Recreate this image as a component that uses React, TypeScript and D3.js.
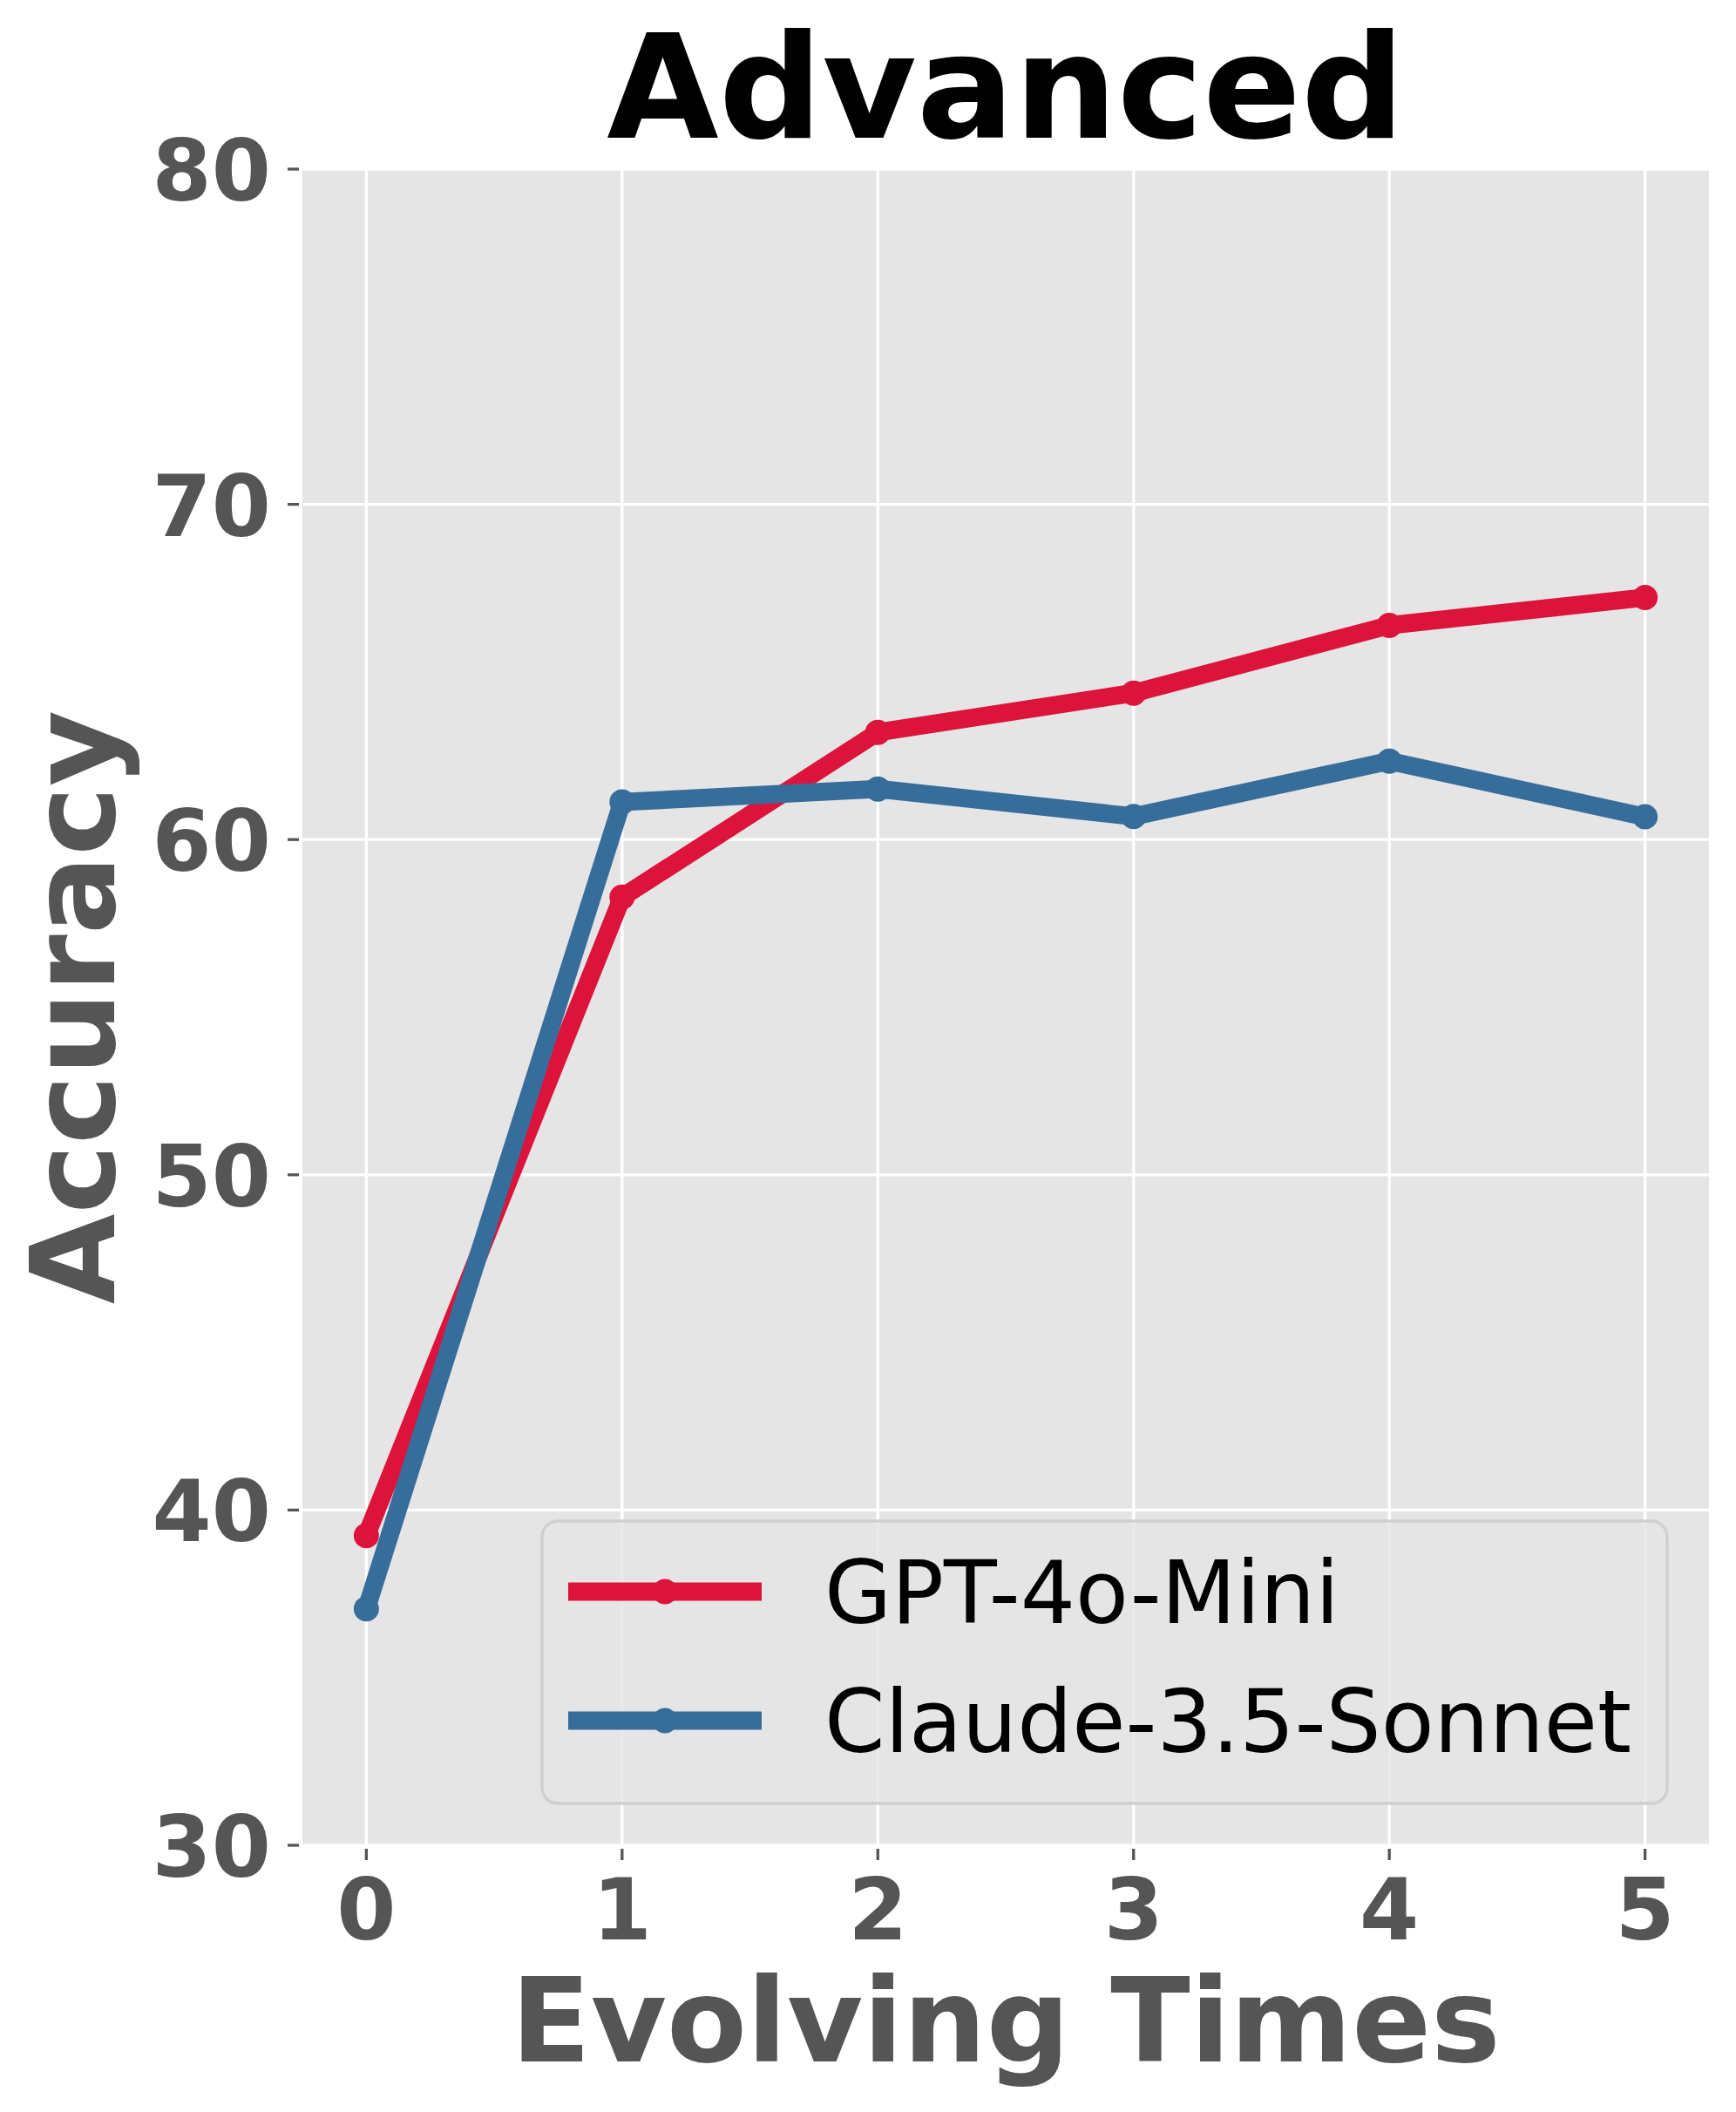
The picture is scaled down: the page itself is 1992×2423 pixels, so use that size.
import React from "react"
import { scaleLinear, line } from "d3"

// values
const evolvingTimes = [0, 1, 2, 3, 4, 5]
const gptValues = [39.24, 58.28, 63.2, 64.37, 66.39, 67.22]
const claudeValues = [37.05, 61.12, 61.51, 60.69, 62.34, 60.68]
const yTicks = [30, 40, 50, 60, 70, 80]
const seriesNames = ["GPT-4o-Mini", "Claude-3.5-Sonnet"]
const seriesColors = ["#DC143C", "#366D9A"]

const W = 1992
const H = 2423
const plot = { left: 347, right: 1961, top: 194, bottom: 2117 }
const FONT = "'DejaVu Sans', sans-serif"
const GREY = "#555555"

export default function App() {
  const x = scaleLinear().domain([-0.25, 5.25]).range([plot.left, plot.right])
  const y = scaleLinear().domain([30, 80]).range([plot.bottom, plot.top])

  const path = line<number>()
    .x((_, i) => x(evolvingTimes[i]))
    .y((d) => y(d))

  const series = [gptValues, claudeValues]
  const midX = (plot.left + plot.right) / 2
  const midY = (plot.top + plot.bottom) / 2

  // legend box
  const lg = { x: 622, y: 1745, w: 1291, h: 324 }
  const legendRows = [1826, 1974]

  return (
    <svg
      width={W}
      height={H}
      style={{ position: "absolute", left: 0, top: 0, background: "#fff" }}
      fontFamily={FONT}
    >
      <rect
        x={plot.left}
        y={plot.top}
        width={plot.right - plot.left}
        height={plot.bottom - plot.top}
        fill="#E5E5E5"
      />
      {/* grid */}
      <g stroke="#fff" strokeWidth={3.3}>
        {yTicks.map((t) => (
          <line key={"gy" + t} x1={plot.left} x2={plot.right} y1={y(t)} y2={y(t)} />
        ))}
        {evolvingTimes.map((t) => (
          <line key={"gx" + t} x1={x(t)} x2={x(t)} y1={plot.top} y2={plot.bottom} />
        ))}
      </g>

      {/* ticks */}
      <g stroke={GREY} strokeWidth={3.3}>
        {yTicks.map((t) => (
          <line key={"ty" + t} x1={330} x2={343} y1={y(t)} y2={y(t)} />
        ))}
        {evolvingTimes.map((t) => (
          <line key={"tx" + t} x1={x(t)} x2={x(t)} y1={2121} y2={2134} />
        ))}
      </g>
      <g fill={GREY} fontWeight="bold" fontSize={98}>
        {yTicks.map((t) => (
          <text key={"ly" + t} x={311} y={y(t) + 36} textAnchor="end">
            {t}
          </text>
        ))}
        {evolvingTimes.map((t) => (
          <text key={"lx" + t} x={x(t)} y={2225} textAnchor="middle">
            {t}
          </text>
        ))}
      </g>

      {/* lines */}
      {series.map((vals, si) => (
        <g key={"s" + si}>
          <path
            d={path(vals) || ""}
            fill="none"
            stroke={seriesColors[si]}
            strokeWidth={20.8}
            strokeLinejoin="round"
            strokeLinecap="butt"
          />
          {vals.map((v, i) => (
            <circle key={i} cx={x(evolvingTimes[i])} cy={y(v)} r={14.5} fill={seriesColors[si]} />
          ))}
        </g>
      ))}

      {/* legend */}
      <rect
        x={lg.x}
        y={lg.y}
        width={lg.w}
        height={lg.h}
        rx={18}
        ry={18}
        fill="#E5E5E5"
        fillOpacity={0.8}
        stroke="#CFCFCF"
        strokeWidth={3.3}
      />
      {seriesNames.map((name, i) => (
        <g key={name}>
          <line
            x1={652}
            x2={874}
            y1={legendRows[i]}
            y2={legendRows[i]}
            stroke={seriesColors[i]}
            strokeWidth={20.8}
          />
          <circle cx={763} cy={legendRows[i]} r={14.5} fill={seriesColors[i]} />
          <text x={946} y={legendRows[i] + 36} fontSize={99.5} fill="#000">
            {name}
          </text>
        </g>
      ))}

      {/* labels */}
      <text x={midX} y={158} textAnchor="middle" fontSize={166} fontWeight="bold" fill="#000">
        Advanced
      </text>
      <text x={midX} y={2365} textAnchor="middle" fontSize={134} fontWeight="bold" fill={GREY}>
        Evolving Times
      </text>
      <text
        transform={`translate(131,${midY}) rotate(-90)`}
        textAnchor="middle"
        fontSize={134}
        fontWeight="bold"
        fill={GREY}
      >
        Accuracy
      </text>
    </svg>
  )
}
